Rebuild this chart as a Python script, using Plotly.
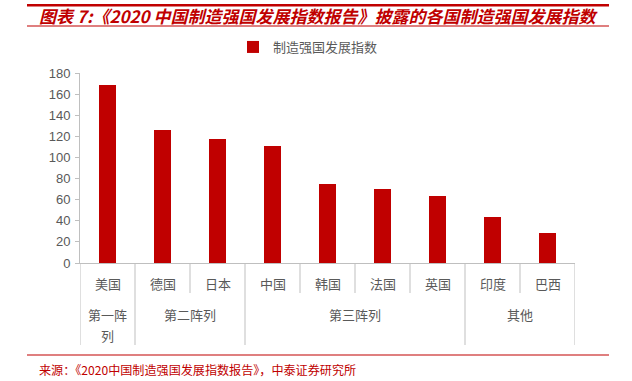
import plotly.graph_objects as go

# ---- data ----
countries = ["美国", "德国", "日本", "中国", "韩国", "法国", "英国", "印度", "巴西"]
values = [168.71, 125.94, 117.16, 110.84, 74.38, 70.07, 63.03, 43.50, 28.69]
groups = ["第一阵列", "第二阵列", "第二阵列", "第三阵列", "第三阵列", "第三阵列", "第三阵列", "其他", "其他"]
series_name = "制造强国发展指数"
y_ticks = [0, 20, 40, 60, 80, 100, 120, 140, 160, 180]
title_text = "图表 7:《2020 中国制造强国发展指数报告》披露的各国制造强国发展指数"
source_text = "来源：《2020中国制造强国发展指数报告》，中泰证券研究所"

# ---- layout geometry (pixels) ----
W, H = 632, 381
L, R, T, B = 80, 575, 73, 263
RED = "#c00000"
GRAY = "#595959"
LINE = "#bfbfbf"
CJK = "Noto Sans CJK SC, Noto Sans, sans-serif"


def px(x):
    return (x - L) / (R - L)


def py(y):
    return (B - y) / (B - T)


fig = go.Figure()
fig.add_trace(go.Bar(
    x=list(range(len(countries))), y=values, name=series_name,
    marker=dict(color=RED, line=dict(width=0)), width=0.31,
    showlegend=True,
))

shapes = []
annotations = []

# category labels
for i, c in enumerate(countries):
    annotations.append(dict(x=i, y=py(283), xref="x", yref="paper", text=c,
                            showarrow=False, font=dict(size=13, color=GRAY, family=CJK),
                            xanchor="center", yanchor="middle"))

# group spans
spans = []
start = 0
for i in range(1, len(groups) + 1):
    if i == len(groups) or groups[i] != groups[start]:
        spans.append((groups[start], start, i - 1))
        start = i

boundaries_long = set()
for g, s, e in spans:
    boundaries_long.add(s - 0.5)
    boundaries_long.add(e + 0.5)
    center = (s + e) / 2
    n = e - s + 1
    maxch = 3 * n if n == 1 else len(g)
    lines = [g[k:k + maxch] for k in range(0, len(g), maxch)]
    for li, t in enumerate(lines):
        annotations.append(dict(x=center, y=py(314 + 21 * li), xref="x", yref="paper", text=t,
                                showarrow=False, font=dict(size=13, color=GRAY, family=CJK),
                                xanchor="center", yanchor="middle"))

for k in range(len(countries) + 1):
    b = k - 0.5
    y1 = 345 if b in boundaries_long else 293
    shapes.append(dict(type="line", xref="x", yref="paper", x0=b, x1=b,
                       y0=0, y1=py(y1), line=dict(color=LINE, width=1)))

# title lines
shapes.append(dict(type="rect", xref="paper", yref="paper", x0=px(27), x1=px(609),
                   y0=py(6.5), y1=py(4), fillcolor=RED, line=dict(width=0), layer="above"))
shapes.append(dict(type="line", xref="paper", yref="paper", x0=px(27), x1=px(609),
                   y0=py(26), y1=py(26), line=dict(color=RED, width=1.2)))
# source line
shapes.append(dict(type="line", xref="paper", yref="paper", x0=px(27), x1=px(609),
                   y0=py(355), y1=py(355), line=dict(color=RED, width=1.2)))

annotations.append(dict(x=px(37), y=py(15.5), xref="paper", yref="paper", text="<b><i>" + title_text + "</i></b>",
                        showarrow=False, font=dict(size=17, color=RED, family=CJK),
                        xanchor="left", yanchor="middle"))
annotations.append(dict(x=px(37), y=py(369), xref="paper", yref="paper", text=source_text,
                        showarrow=False, font=dict(size=12.1, color=RED, family=CJK),
                        xanchor="left", yanchor="middle"))

fig.update_layout(
    width=W, height=H,
    margin=dict(l=L, r=W - R, t=T, b=H - B, autoexpand=False),
    paper_bgcolor="white", plot_bgcolor="white",
    showlegend=True,
    legend=dict(orientation="h", xref="container", yref="container", x=0.5 - 8 / W, y=1 - 47 / H,
                xanchor="center", yanchor="middle",
                font=dict(size=13, color=GRAY, family=CJK), itemwidth=30),
    xaxis=dict(range=[-0.5, len(countries) - 0.5], showticklabels=False, showgrid=False,
               zeroline=False, showline=True, linecolor=LINE, linewidth=1, ticks=""),
    yaxis=dict(range=[0, 180], tickvals=y_ticks, showgrid=False, zeroline=False,
               showline=True, linecolor=LINE, linewidth=1, ticks="outside", ticklen=4,
               tickcolor=LINE, tickfont=dict(size=13, color=GRAY, family="Liberation Sans, Arial"),
               ticklabelstandoff=2),
    shapes=shapes, annotations=annotations,
    bargap=0,
)

fig.write_html("out.html", config={"displayModeBar": False},
               post_script="document.body.style.margin='0';")
